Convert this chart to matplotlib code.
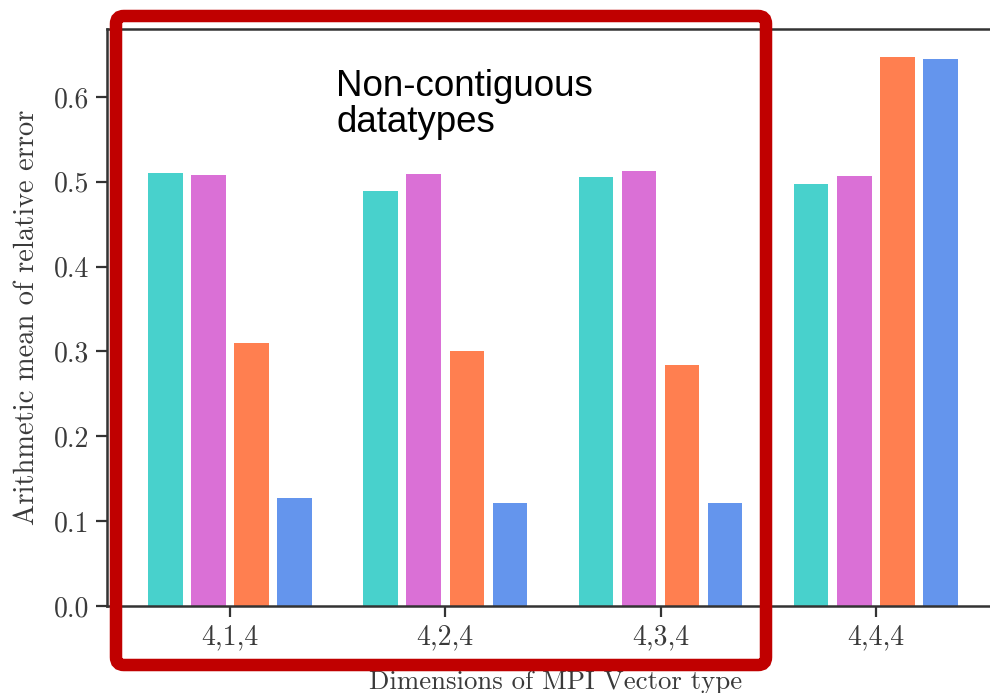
"""Bar chart: relative error per MPI Vector type dimensions."""
import matplotlib
matplotlib.use('Agg')
import matplotlib.pyplot as plt
import numpy as np
from matplotlib.patches import FancyBboxPatch

plt.rcParams['font.family'] = 'cmr10'
plt.rcParams['axes.formatter.use_mathtext'] = True

categories = ['4,1,4', '4,2,4', '4,3,4', '4,4,4']
series_a = [0.510, 0.489, 0.505, 0.497]
series_b = [0.508, 0.509, 0.513, 0.507]
series_c = [0.310, 0.301, 0.284, 0.647]
series_d = [0.127, 0.121, 0.121, 0.645]
colors = ['#48D1CC', '#DA70D6', '#FF7F50', '#6495ED']

W, H = 990, 693
fig = plt.figure(figsize=(W / 100, H / 100), dpi=100)
ax = fig.add_axes([107 / W, 87 / H, 898 / W, 577 / H])

x = np.arange(len(categories))
bw = 0.16
for i, (vals, c) in enumerate(zip([series_a, series_b, series_c, series_d], colors)):
    ax.bar(x + (i - 1.5) * 0.2, vals, bw, color=c, zorder=2)

ax.set_xlim(-0.571, 3.6)
ax.set_ylim(0, 0.68)
ax.set_xticks(x)
ax.set_xticklabels(categories)
ax.set_yticks([0.0, 0.1, 0.2, 0.3, 0.4, 0.5, 0.6])
ax.set_yticklabels(['0.0', '0.1', '0.2', '0.3', '0.4', '0.5', '0.6'])
ax.tick_params(axis='both', labelsize=20, colors='#333333', labelcolor='#3a3a3a',
               length=8, width=1.6, pad=5)
ax.spines['right'].set_visible(False)
for s in ['left', 'bottom', 'top']:
    ax.spines[s].set_color('#333333')
    ax.spines[s].set_linewidth(1.8)

ax.set_ylabel('Arithmetic mean of relative error', fontsize=20.5, color='#3a3a3a', labelpad=10)
ax.set_xlabel('Dimensions of MPI Vector type', fontsize=19.3, color='#3a3a3a', labelpad=14.5)

# red highlight box
fig.patches.append(FancyBboxPatch((116 / W, 1 - 665 / H), 650 / W, 649 / H,
                                  boxstyle='round,pad=0,rounding_size=0.008',
                                  transform=fig.transFigure, facecolor='none',
                                  edgecolor='#C00000', linewidth=9, zorder=10,
                                  mutation_aspect=W / H))

fig.text(336 / W, 1 - 96 / H, 'Non-contiguous', fontsize=26.5,
         family='Liberation Sans', color='black', ha='left', va='baseline')
fig.text(336 / W, 1 - 132 / H, 'datatypes', fontsize=26.5,
         family='Liberation Sans', color='black', ha='left', va='baseline')

fig.savefig('out.png', dpi=100)
